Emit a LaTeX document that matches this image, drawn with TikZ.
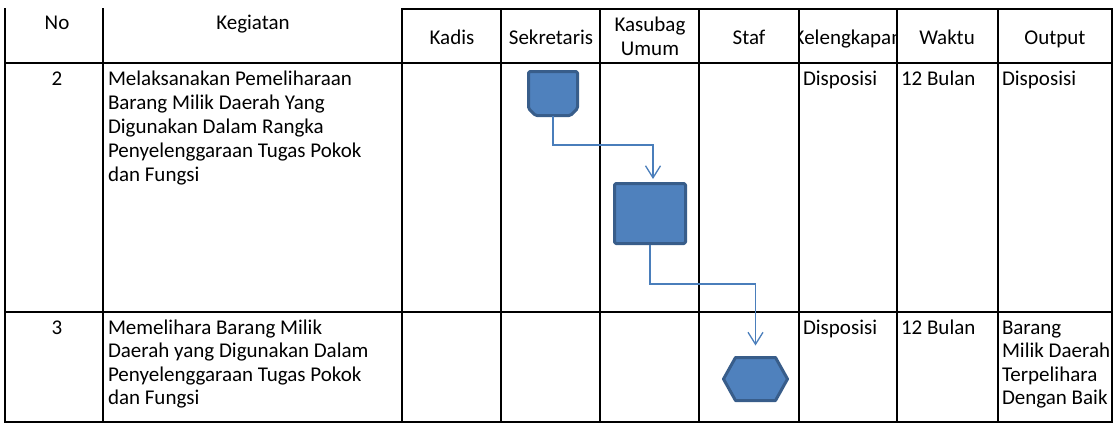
\documentclass[tikz,border=0pt]{standalone}
\usepackage{fontspec}
\setmainfont{Carlito}
\usetikzlibrary{arrows.meta,calc}
\definecolor{shapefill}{HTML}{4F81BD}
\definecolor{shapeline}{HTML}{385D8A}
\definecolor{connline}{HTML}{4A7EBB}
\newcommand{\lefttab}[1]{\begin{tabular}[t]{@{}l@{}}#1\end{tabular}}
\newcommand{\centtab}[1]{\begin{tabular}[t]{@{}c@{}}#1\end{tabular}}
\begin{document}
\begin{tikzpicture}[x=1pt,y=-1pt,
  gridline/.style={line width=2pt, draw=black, line cap=rect},
  txt/.style={inner sep=0pt, outer sep=0pt, font=\fontsize{21}{24}\selectfont},
  txtb/.style={inner sep=0pt, outer sep=0pt, font=\fontsize{21}{23.5}\selectfont},
  shp/.style={fill=shapefill, draw=shapeline, line width=3pt, line join=round},
  holder/.style={inner sep=0pt, outer sep=0pt},
  conn/.style={draw=connline, line width=1.3pt},
  arr/.style={-{Straight Barb[length=12pt,width=15pt]}}]
\useasboundingbox (0,0) rectangle (1115,424);

% ---------- header texts ----------
\node[txt, anchor=base] (hNo) at (57,29) {No};
\node[txt, anchor=base] (hKeg) at (253,29) {Kegiatan};
\node[txt, anchor=base] (hKadis) at (452,44) {Kadis};
\node[txt, anchor=base] (hSek) at (551,44) {Sekretaris};
\node[txt, anchor=base] (hKas) at (650,31) {\centtab{Kasubag\\Umum}};
\node[txt, anchor=base] (hStaf) at (749,44) {Staf};
\begin{scope}
  \clip (799,9) rectangle (897,63);
  \node[txt, anchor=base] (hKel) at (848,44) {Kelengkapan};
\end{scope}
\node[txt, anchor=base] (hWaktu) at (947,44) {Waktu};
\node[txt, anchor=base] (hOut) at (1055,44) {Output};

% ---------- row 2 ----------
\node[txt, anchor=base] (n2) at (57,85) {2};
\node[txt, anchor=base west] (k2) at (108,85)
  {\lefttab{Melaksanakan Pemeliharaan\\Barang Milik Daerah Yang\\Digunakan Dalam Rangka\\Penyelenggaraan Tugas Pokok\\dan Fungsi}};
\node[txt, anchor=base west] (kel2) at (803,85) {Disposisi};
\node[txt, anchor=base west] (w2) at (901,85) {12 Bulan};
\node[txt, anchor=base west] (o2) at (1002,85) {Disposisi};

% ---------- row 3 ----------
\node[txt, anchor=base] (n3) at (57,334) {3};
\node[txtb, anchor=base west] (k3) at (108,334)
  {\lefttab{Memelihara Barang Milik\\Daerah yang Digunakan Dalam\\Penyelenggaraan Tugas Pokok\\dan Fungsi}};
\node[txt, anchor=base west] (kel3) at (803,334) {Disposisi};
\node[txt, anchor=base west] (w3) at (901,334) {12 Bulan};
\node[txtb, anchor=base west] (o3) at (1002,334)
  {\lefttab{Barang\\Milik Daerah\\Terpelihara\\Dengan Baik}};

% ---------- table grid ----------
\draw[gridline] (402,9) -- (1112,9);
\draw[gridline] (5,63) -- (1112,63);
\draw[gridline] (5,312) -- (1112,312);
\draw[gridline] (5,422) -- (1112,422);
\foreach \xx in {5,103,402,501,600,699,799,897,998,1112}
  \draw[gridline] (\xx,9) -- (\xx,422);

% ---------- shapes ----------
% Sekretaris: off-page connector shape
\node[holder, minimum width=49pt, minimum height=44pt] (sek) at (553,93.5) {};
\draw[shp, rounded corners=1.5pt] (sek.north west) -- (sek.north east)
  -- ($(sek.south east)+(0,-7)$) -- ($(sek.south east)+(-7,0)$)
  -- ($(sek.south west)+(7,0)$) -- ($(sek.south west)+(0,-7)$) -- cycle;
% Kasubag Umum: process box
\node[shp, rounded corners=1.5pt, minimum width=71pt, minimum height=60pt, inner sep=0pt] (rect) at (650,213.5) {};
% Staf: hexagon
\node[holder, minimum width=64pt, minimum height=43pt] (hex) at (755.5,379) {};
\draw[shp] (hex.west) -- ($(hex.north west)+(12,0)$) -- ($(hex.north east)+(-12,0)$)
  -- (hex.east) -- ($(hex.south east)+(-12,0)$) -- ($(hex.south west)+(12,0)$) -- cycle;

% ---------- connectors ----------
\coordinate (b1) at (653,145);
\draw[conn, arr, shorten >=3pt] (sek.south) |- (b1) -- (b1 |- rect.north);
\coordinate (b2) at (755.5,284);
\draw[conn, arr, shorten >=12pt] (rect.south) |- (b2) -- (hex.north);
\end{tikzpicture}
\end{document}
